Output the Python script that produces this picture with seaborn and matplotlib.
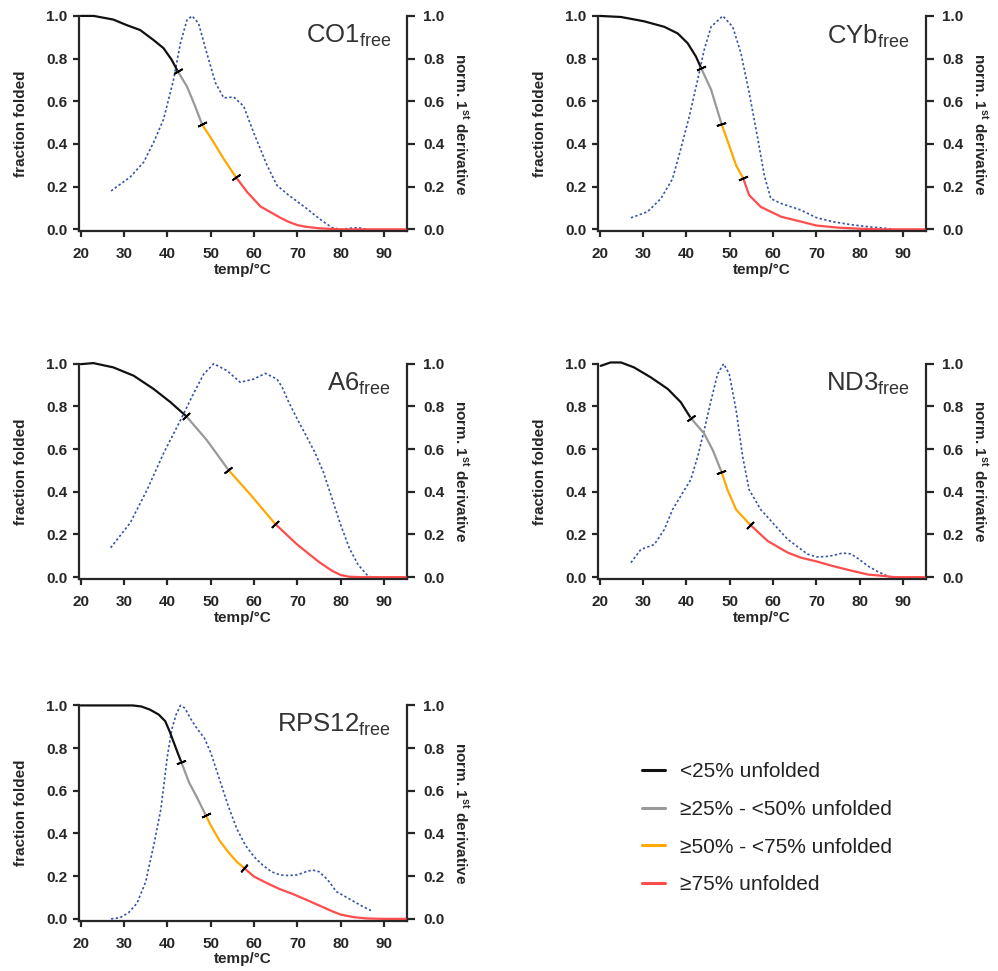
import numpy as np
import pandas as pd
import matplotlib.pyplot as plt
from matplotlib.lines import Line2D
import seaborn as sns

# fraction folded curves (temp in degC)
T_co1 = [20, 23, 27.5, 30.6, 33.7, 36.8, 39.1, 41.0, 42.4, 44.5, 46.4, 48.0, 50.7, 53.0, 55.8,
         58.4, 61.5, 66.1, 68, 70, 72, 75, 78, 80, 85, 90, 95]
F_co1 = [1.0, 1.0, 0.983, 0.957, 0.934, 0.887, 0.849, 0.794, 0.74, 0.67, 0.577, 0.492, 0.407, 0.33,
         0.245, 0.175, 0.107, 0.054, 0.035, 0.02, 0.012, 0.005, 0.002, 0.0, 0.0, 0.0, 0.0]
T_cyb = [20, 24.9, 30.2, 34.9, 38.0, 40.3, 42.2, 43.4, 45.7, 48.1, 49.9, 51.5, 53.1, 54.5, 57.2,
         61.9, 66.5, 70, 75, 80, 85, 90, 95]
F_cyb = [1.0, 0.995, 0.975, 0.949, 0.918, 0.872, 0.81, 0.756, 0.655, 0.495, 0.392, 0.299, 0.24, 0.16,
         0.105, 0.059, 0.036, 0.018, 0.008, 0.003, 0.0, 0.0, 0.0]
T_a6 = [20, 22.9, 27.5, 32.2, 36.8, 40.7, 44.4, 49.1, 54.1, 59.2, 64.9, 70, 75, 78, 80, 82, 85, 90, 95]
F_a6 = [0.998, 1.003, 0.983, 0.944, 0.882, 0.82, 0.753, 0.642, 0.502, 0.386, 0.249, 0.152, 0.071, 0.03,
        0.01, 0.002, 0.0, 0.0, 0.0]
T_nd3 = [20.2, 22.5, 24.9, 27.9, 31.8, 35.7, 38.7, 41.0, 44.1, 46.1, 48.1, 49.5, 51.5, 54.7, 58.8,
         63.4, 66.5, 70, 74, 78, 82, 86, 88, 90, 95]
F_nd3 = [0.99, 1.006, 1.006, 0.983, 0.936, 0.882, 0.82, 0.746, 0.673, 0.595, 0.494, 0.409, 0.316,
         0.246, 0.169, 0.115, 0.091, 0.074, 0.051, 0.031, 0.012, 0.005, 0.0, 0.0, 0.0]
T_rps = [20, 25, 30, 32, 34, 36, 38, 39.5, 40.5, 41.5, 42.5, 43.2, 45, 47, 48.8, 50, 52, 54, 56, 57.6,
         60, 63, 66, 69, 72, 75, 78, 80, 83, 86, 90, 95]
F_rps = [1.0, 1.0, 1.0, 1.0, 0.995, 0.98, 0.957, 0.926, 0.879, 0.825, 0.771, 0.735, 0.639, 0.562, 0.488,
         0.438, 0.368, 0.314, 0.268, 0.24, 0.198, 0.167, 0.139, 0.116, 0.09, 0.063, 0.036, 0.02, 0.008,
         0.002, 0.0, 0.0]

# temperatures where 25 / 50 / 75 % unfolded is reached
cut_co1 = [42.4, 48.0, 55.8]
cut_cyb = [43.4, 48.1, 53.1]
cut_a6 = [44.4, 54.1, 64.9]
cut_nd3 = [41.0, 48.1, 54.7]
cut_rps = [43.2, 48.8, 57.6]

# normalised first derivative
Td_co1 = [27, 31.4, 34.5, 36.8, 39.1, 41.4, 43.0, 44.5, 45.7, 47.2, 49.1, 51.1, 53.0, 55.3, 57.6,
          59.9, 63.0, 65.3, 68, 70, 72, 74, 76, 78, 80, 82, 84, 86]
D_co1 = [0.18, 0.245, 0.314, 0.407, 0.515, 0.70, 0.872, 0.98, 1.0, 0.965, 0.825, 0.686, 0.616, 0.62,
         0.577, 0.454, 0.3, 0.206, 0.16, 0.13, 0.1, 0.067, 0.036, 0.008, 0.0, 0.005, 0.008, 0.0]
Td_cyb = [27.2, 31.0, 34.1, 36.8, 38.7, 40.7, 42.6, 44.1, 45.7, 48.4, 50.7, 52.6, 54.5, 56.5, 58.0,
          59.5, 61.9, 66.5, 68, 70, 74, 78, 82, 86, 88]
D_cyb = [0.054, 0.082, 0.144, 0.237, 0.376, 0.531, 0.70, 0.84, 0.949, 1.0, 0.949, 0.825, 0.64, 0.423,
         0.252, 0.144, 0.121, 0.09, 0.075, 0.055, 0.035, 0.022, 0.012, 0.005, 0.0]
Td_a6 = [26.9, 31.4, 35.3, 39.1, 43.0, 46.0, 48.4, 50.7, 53.8, 56.8, 59.9, 62.6, 65.3, 66.5, 68, 70,
         72, 74, 76, 78, 80, 82, 84, 86, 87]
D_a6 = [0.138, 0.254, 0.409, 0.58, 0.735, 0.859, 0.952, 1.0, 0.967, 0.913, 0.928, 0.955, 0.928, 0.89,
        0.82, 0.74, 0.664, 0.586, 0.493, 0.369, 0.245, 0.136, 0.059, 0.012, 0.0]
Td_nd3 = [27.2, 29.5, 32.6, 34.9, 36.8, 39.1, 41.0, 42.6, 44.1, 45.7, 47.2, 48.6, 49.9, 51.5, 53.0,
          54.5, 57.2, 60.3, 63.4, 66.5, 68, 70, 72, 74, 76, 78, 80, 82, 84, 86, 87]
D_nd3 = [0.068, 0.13, 0.153, 0.223, 0.316, 0.394, 0.456, 0.564, 0.688, 0.828, 0.952, 1.0, 0.952, 0.781,
         0.564, 0.409, 0.316, 0.246, 0.177, 0.13, 0.108, 0.095, 0.096, 0.102, 0.113, 0.109, 0.082,
         0.051, 0.028, 0.009, 0.0]
Td_rps = [27, 29, 31, 33, 35, 37, 38.5, 40, 41, 42, 43, 44, 45.5, 47, 48.5, 50, 52, 54, 56, 58, 60,
          62, 64, 66, 68, 70, 72, 73.5, 75, 77, 79, 81, 83, 85, 87]
D_rps = [0.0, 0.005, 0.028, 0.074, 0.175, 0.36, 0.515, 0.763, 0.887, 0.957, 1.0, 0.988, 0.933, 0.887,
         0.848, 0.779, 0.655, 0.531, 0.423, 0.345, 0.291, 0.252, 0.221, 0.206, 0.203, 0.206, 0.221,
         0.229, 0.221, 0.183, 0.128, 0.105, 0.082, 0.059, 0.039]

names = ["CO1", "CYb", "A6", "ND3", "RPS12"]
seg_labels = ["<25% unfolded", "≥25% - <50% unfolded", "≥50% - <75% unfolded", "≥75% unfolded"]
seg_colors = ["#111111", "#999999", "#ffa800", "#ff4c4c"]
deriv_color = "#3553a8"

panels = [
    (T_co1, F_co1, cut_co1, Td_co1, D_co1),
    (T_cyb, F_cyb, cut_cyb, Td_cyb, D_cyb),
    (T_a6, F_a6, cut_a6, Td_a6, D_a6),
    (T_nd3, F_nd3, cut_nd3, Td_nd3, D_nd3),
    (T_rps, F_rps, cut_rps, Td_rps, D_rps),
]

sns.set_style("ticks")
plt.rcParams["font.family"] = ["Liberation Sans", "DejaVu Sans"]
plt.rcParams["mathtext.fontset"] = "custom"
plt.rcParams["mathtext.rm"] = "Liberation Sans"
plt.rcParams["mathtext.bf"] = "Liberation Sans:bold"
plt.rcParams["axes.linewidth"] = 1.6

fig = plt.figure(figsize=(9.98, 9.71), dpi=100)

rects = [
    (0.0792, 0.7616), (0.5992, 0.7616),
    (0.0792, 0.4034), (0.5992, 0.4034),
    (0.0792, 0.0515),
]

for name, (T, F, cuts, Td, D), (x0, y0) in zip(names, panels, rects):
    ax = fig.add_axes([x0, y0, 0.329, 0.222])
    ax2 = ax.twinx()

    # split the melting curve into the four coloured segments
    bounds = [-np.inf] + cuts + [np.inf]
    T = np.array(T)
    F = np.array(F)
    parts = []
    for k in range(4):
        m = (T >= bounds[k]) & (T <= bounds[k + 1])
        parts.append(pd.DataFrame({"T": T[m], "F": F[m], "seg": seg_labels[k]}))
    df = pd.concat(parts, ignore_index=True)

    sns.lineplot(data=pd.DataFrame({"T": Td, "D": D}), x="T", y="D", ax=ax2,
                 color=deriv_color, linewidth=1.2, linestyle=(0, (1.4, 1.4)), clip_on=False)
    sns.lineplot(data=df, x="T", y="F", hue="seg", hue_order=seg_labels, palette=seg_colors,
                 estimator=None, sort=False, legend=False, linewidth=1.6, ax=ax, clip_on=False)

    for a in (ax, ax2):
        a.set_xlim(19.6, 95.4)
        a.set_ylim(-0.01, 1.0)
        a.set_yticks(np.arange(0, 1.01, 0.2))
        a.spines["top"].set_visible(False)
    ax.spines["right"].set_visible(False)
    ax2.spines["left"].set_visible(False)
    ax2.spines["bottom"].set_visible(False)
    ax.set_xticks(range(20, 91, 10))
    ax.set_zorder(ax2.get_zorder() + 1)
    ax.patch.set_visible(False)

    ax.tick_params(axis="y", labelsize=11, width=1.6, length=4.5, pad=4)
    ax.tick_params(axis="x", labelsize=11, width=1.6, length=4.5, pad=7)
    ax2.tick_params(axis="y", labelsize=11, width=1.6, length=5.5, pad=6)
    for lab in ax.get_xticklabels() + ax.get_yticklabels() + ax2.get_yticklabels():
        lab.set_fontweight("bold")
    ax.yaxis.set_major_formatter(plt.FormatStrFormatter("%.1f"))
    ax2.yaxis.set_major_formatter(plt.FormatStrFormatter("%.1f"))

    ax.set_xlabel("temp/°C", fontsize=11, fontweight="bold", labelpad=1)
    ax.set_ylabel("fraction folded", fontsize=11, fontweight="bold", labelpad=13)
    ax2.set_ylabel(r"norm. 1$^{\mathbf{st}}$ derivative", fontsize=11, fontweight="bold",
                   rotation=270, labelpad=18)

    # short ticks across the curve at each transition, perpendicular to it
    for c in cuts:
        i = int(np.where(T == c)[0][0])
        p0 = ax.transData.transform((T[i - 1], F[i - 1]))
        p1 = ax.transData.transform((T[i + 1], F[i + 1]))
        ang = np.degrees(np.arctan2(p1[1] - p0[1], p1[0] - p0[0]))
        ax.plot(T[i], F[i], marker=(2, 2, ang), color="black", markersize=7,
                markeredgewidth=1.3, clip_on=False, zorder=5)

    ax.text(0.95, 0.97, name + r"$_{\mathrm{free}}$", transform=ax.transAxes,
            ha="right", va="top", fontsize=18.5, color="#333333")

handles = [Line2D([], [], color=c, linewidth=2.2) for c in seg_colors]
fig.legend(handles, seg_labels, loc="upper left", bbox_to_anchor=(0.643, 0.215),
           frameon=False, fontsize=15, handlelength=1.1, handletextpad=0.75,
           labelspacing=0.9, borderpad=0, borderaxespad=0, labelcolor="#222222")

fig.savefig("out.png", dpi=100)
